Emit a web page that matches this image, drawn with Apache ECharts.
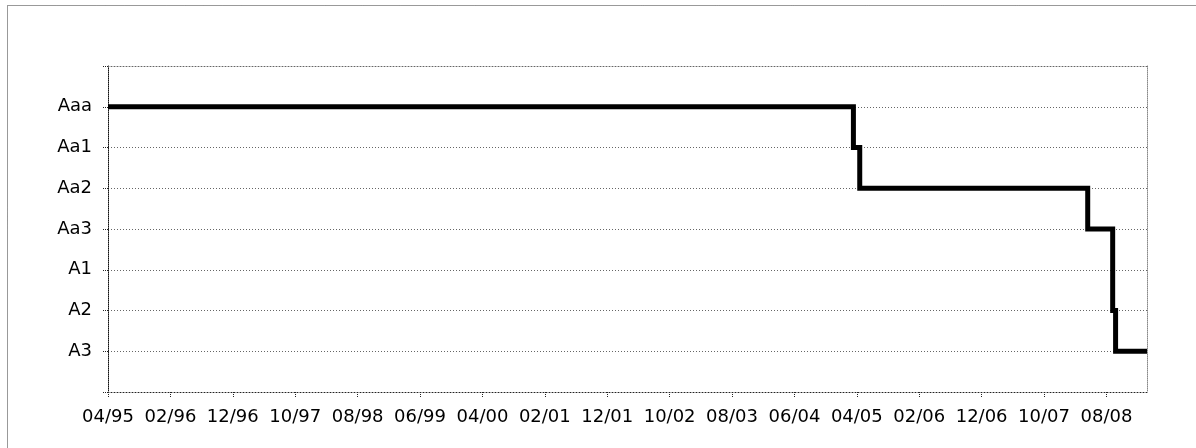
<!DOCTYPE html>
<html>
<head>
<meta charset="utf-8">
<script src="https://cdn.jsdelivr.net/npm/echarts@6/dist/echarts.min.js"></script>
<style>
html,body{margin:0;padding:0;background:#fff;}
#c{width:1196px;height:448px;}
</style>
</head>
<body>
<div id="c"></div>
<script>
// Rating scale, top to bottom
const ratingLabels = ['Aaa', 'Aa1', 'Aa2', 'Aa3', 'A1', 'A2', 'A3'];
// Dates where the rating changes (last entry = end of the series)
const changeDates = ['1995-04-01', '2005-03-15', '2005-04-15', '2008-05-01', '2008-09-01', '2008-09-15', '2009-02-15'];
const changeRatings = ['Aaa', 'Aa1', 'Aa2', 'Aa3', 'A2', 'A3', 'A3'];
// Axis origin and tick step (months)
const originDate = '1995-04-01';
const tickMonths = 10;

function monthsSince(dateStr) {
  const [y, m, d] = dateStr.split('-').map(Number);
  const [oy, om] = originDate.split('-').map(Number);
  const dim = new Date(y, m, 0).getDate();
  return (y - oy) * 12 + (m - om) + (d - 1) / dim;
}
function monthLabel(v) {
  if (Math.abs(v - Math.round(v)) > 1e-6 || Math.round(v) % tickMonths !== 0) return '';
  const [oy, om] = originDate.split('-').map(Number);
  const total = (om - 1) + Math.round(v);
  const yy = oy + Math.floor(total / 12);
  const mm = total % 12 + 1;
  return String(mm).padStart(2, '0') + '/' + String(yy % 100).padStart(2, '0');
}

const seriesData = changeDates.map((d, i) => [monthsSince(d), ratingLabels.indexOf(changeRatings[i])]);
const xMax = monthsSince(changeDates[changeDates.length - 1]);

const font = 'DejaVu Sans';
const chart = echarts.init(document.getElementById('c'), null, {renderer: 'canvas'});
chart.setOption({
  animation: false,
  backgroundColor: '#ffffff',
  grid: {left: 108, right: 49, top: 66, bottom: 56, containLabel: false},
  xAxis: [{
    type: 'value', position: 'bottom', min: 0, max: xMax, interval: tickMonths,
    axisLine: {show: true, onZero: false, lineStyle: {color: '#222', width: 1, type: [1, 2]}},
    axisTick: {show: true, length: 5, lineStyle: {color: '#222', type: [1, 1]}},
    axisLabel: {show: true, margin: 16, color: '#000', fontFamily: font, fontSize: 18,
      showMaxLabel: false, formatter: monthLabel},
    splitLine: {show: false}
  }, {
    type: 'value', position: 'top', min: 0, max: xMax,
    axisLine: {show: true, onZero: false, lineStyle: {color: '#666', width: 1, type: [1, 2]}},
    axisTick: {show: false}, axisLabel: {show: false}, splitLine: {show: false}
  }],
  yAxis: [{
    type: 'value', position: 'left', inverse: true, min: -1, max: 7, interval: 1,
    axisLine: {show: true, onZero: false, lineStyle: {color: '#111', width: 1, type: [1, 1]}},
    axisTick: {show: true, length: 5, lineStyle: {color: '#222', type: [1, 1]}},
    axisLabel: {show: true, margin: 16, color: '#000', fontFamily: font, fontSize: 18,
      formatter: v => (v >= 0 && v < ratingLabels.length) ? ratingLabels[v] : ''},
    splitLine: {show: true, lineStyle: {color: '#666', width: 1, type: [1, 2]}}
  }, {
    type: 'value', position: 'right', inverse: true, min: -1, max: 7,
    axisLine: {show: true, onZero: false, lineStyle: {color: '#888', width: 1, type: [1, 1]}},
    axisTick: {show: false}, axisLabel: {show: false}, splitLine: {show: false}
  }],
  series: [{
    type: 'line', xAxisIndex: 0, yAxisIndex: 0,
    data: seriesData, step: 'end', showSymbol: false, symbol: 'none',
    lineStyle: {color: '#000', width: 5, join: 'miter', cap: 'butt'}
  }],
  graphic: [{
    type: 'rect', silent: true,
    shape: {x: 7.5, y: 5.5, width: 1300, height: 600},
    style: {fill: null, stroke: '#333', lineWidth: 1, lineDash: [1, 1]}
  }]
});
</script>
</body>
</html>
